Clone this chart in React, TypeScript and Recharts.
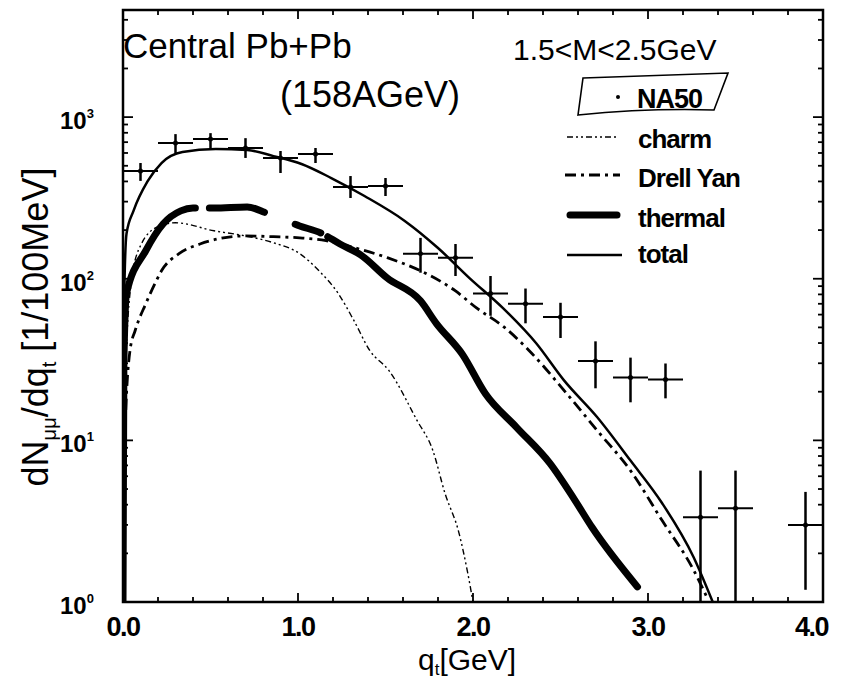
import { ComposedChart, Line, Scatter, ErrorBar, XAxis, YAxis } from "recharts";

// NA50 data points (q_t bin centres, dN/dq_t, error bar ends)
const NA50_QT = [0.1, 0.3, 0.5, 0.7, 0.9, 1.1, 1.3, 1.5, 1.7, 1.9, 2.1, 2.3, 2.5, 2.7, 2.9, 3.1, 3.3, 3.5, 3.9];
const NA50_Y = [464, 692, 731, 644, 559, 591, 370, 375, 143, 135, 81, 70, 58, 31, 24.5, 23.8, 3.35, 3.8, 3.0];
const NA50_HI = [520, 785, 796, 741, 617, 644, 432, 420, 179, 164, 104, 87, 71, 41, 32.5, 29.9, 6.5, 6.5, 4.8];
const NA50_LO = [403, 600, 644, 559, 451, 520, 316, 325, 109, 104, 59, 53, 43, 21, 17.2, 18.2, 1, 1, 1.19];
const NA50_DQ = 0.1;

// model curves
const TOTAL_X = [0, 0.005, 0.02, 0.06, 0.14, 0.22, 0.34, 0.53, 0.71, 0.86, 1.02, 1.19, 1.38, 1.61, 1.8, 1.98, 2.17, 2.36, 2.52, 2.71, 2.9, 3.08, 3.26, 3.37];
const TOTAL_Y = [1, 60, 190, 263, 400, 520, 608, 634, 626, 574, 513, 420, 325, 228, 155, 101, 66, 40, 23.5, 13.9, 7.5, 4.1, 1.9, 1.0];

const THERMAL_X = [0, 0.005, 0.02, 0.13, 0.23, 0.33, 0.4, 0.52, 0.71, 0.82, 1.01, 1.13, 1.24, 1.36, 1.51, 1.7, 1.79, 1.94, 2.07, 2.25, 2.44, 2.58, 2.68, 2.94];
const THERMAL_Y = [1, 30, 81, 149, 219, 263, 274, 274, 278, 255, 212, 192, 164, 140, 101, 73, 53, 34, 19.5, 12, 7.2, 4.3, 2.9, 1.24];

const DY_X = [0, 0.01, 0.04, 0.07, 0.13, 0.19, 0.22, 0.32, 0.44, 0.55, 0.7, 0.86, 1.01, 1.16, 1.28, 1.51, 1.7, 1.9, 2.02, 2.18, 2.32, 2.53, 2.71, 2.9, 3.08, 3.26, 3.34];
const DY_Y = [1, 10, 36, 48, 70, 97, 112, 143, 164, 177, 184, 182, 179, 172, 160, 135, 112, 84, 66, 50, 36, 19.8, 11.5, 6.5, 3.2, 1.58, 1.05];

const CHARM_X = [0, 0.01, 0.05, 0.1, 0.2, 0.3, 0.52, 0.7, 0.86, 1.01, 1.12, 1.23, 1.32, 1.41, 1.52, 1.68, 1.77, 1.84, 1.92, 1.97, 2.0];
const CHARM_Y = [1, 20, 100, 160, 210, 222, 198, 184, 167, 143, 112, 81, 55, 36, 27, 13.3, 8.7, 4.7, 2.67, 1.51, 1.0];

const X_TICKS = [0, 0.2, 0.4, 0.6, 0.8, 1, 1.2, 1.4, 1.6, 1.8, 2, 2.2, 2.4, 2.6, 2.8, 3, 3.2, 3.4, 3.6, 3.8, 4];
const Y_TICKS = [
  1, 2, 3, 4, 5, 6, 7, 8, 9,
  10, 20, 30, 40, 50, 60, 70, 80, 90,
  100, 200, 300, 400, 500, 600, 700, 800, 900,
  1000, 2000, 3000, 4000,
];

const W = 826;
const H = 671;
const PLOT = { left: 115, right: 815, top: 2, bottom: 594 };
const FONT = "'Liberation Sans', Arial, sans-serif";

const curve = (xs: number[], ys: number[]) => xs.map((x, i) => ({ x, y: ys[i] }));

const na50 = NA50_QT.map((x, i) => ({
  x,
  y: NA50_Y[i],
  ex: NA50_DQ,
  ey: [NA50_Y[i] - NA50_LO[i], NA50_HI[i] - NA50_Y[i]],
}));

function XTick({ x, y, payload }: any) {
  const v = payload.value as number;
  const major = Math.abs(v - Math.round(v)) < 1e-6;
  const len = major ? 9 : 5;
  const last = v >= 4;
  return (
    <g>
      <line x1={x} y1={y} x2={x} y2={y - len} stroke="#000" strokeWidth={1.8} />
      <line x1={x} y1={PLOT.top} x2={x} y2={PLOT.top + len} stroke="#000" strokeWidth={1.8} />
      {major && (
        <text
          x={last ? x + 5 : x}
          y={y + 34}
          textAnchor={last ? "end" : "middle"}
          fontSize={27}
          fontWeight="bold"
          letterSpacing={-1.5}
          fontFamily={FONT}
          fill="#000"
        >
          {v.toFixed(1)}
        </text>
      )}
    </g>
  );
}

function YTick({ x, y, payload }: any) {
  const v = payload.value as number;
  const e = Math.log10(v);
  const major = Math.abs(e - Math.round(e)) < 1e-6;
  const len = major ? 10 : 5;
  return (
    <g>
      <line x1={x} y1={y} x2={x + len} y2={y} stroke="#000" strokeWidth={1.8} />
      <line x1={PLOT.right} y1={y} x2={PLOT.right - len} y2={y} stroke="#000" strokeWidth={1.8} />
      {major && (
        <text x={x - 63} y={y + 12} fontSize={24} fontWeight="bold" fontFamily={FONT} fill="#000">
          10<tspan dy={-11} fontSize={13}>{Math.round(e)}</tspan>
        </text>
      )}
    </g>
  );
}

function Overlay() {
  return (
    <svg width={W} height={H} style={{ position: "absolute", left: 0, top: 0, pointerEvents: "none" }} fontFamily={FONT}>
      <rect x={PLOT.left} y={PLOT.top} width={PLOT.right - PLOT.left} height={PLOT.bottom - PLOT.top} fill="none" stroke="#000" strokeWidth={2.5} />

      <text x={115} y={50} fontSize={35}>Central Pb+Pb</text>
      <text x={272} y={99} fontSize={36}>(158AGeV)</text>
      <text x={505} y={52} fontSize={30}>1.5&lt;M&lt;2.5GeV</text>

      <path d="M575 70 L720 65 L706 102 Q640 100 570 107 Z" fill="none" stroke="#000" strokeWidth={1.6} />
      <circle cx={610} cy={89} r={2} fill="#000" />
      <text x={629} y={100} fontSize={27} fontWeight="bold" letterSpacing={-1}>NA50</text>

      <line x1={559} y1={129} x2={609} y2={129} stroke="#000" strokeWidth={1.5} strokeDasharray="6 3 2 3 2 3" />
      <text x={630} y={140} fontSize={26} fontWeight="bold" letterSpacing={-1}>charm</text>
      <line x1={557} y1={167} x2={612} y2={167} stroke="#000" strokeWidth={3} strokeDasharray="11 5 3 5" />
      <text x={630} y={179} fontSize={26} fontWeight="bold" letterSpacing={-1}>Drell Yan</text>
      <line x1={562} y1={207} x2={609} y2={207} stroke="#000" strokeWidth={7} strokeLinecap="round" />
      <text x={630} y={219} fontSize={26} fontWeight="bold" letterSpacing={-1}>thermal</text>
      <line x1={559} y1={247} x2={614} y2={247} stroke="#000" strokeWidth={2.5} />
      <text x={630} y={255} fontSize={26} fontWeight="bold" letterSpacing={-1}>total</text>

      <text transform="rotate(-90)" x={-319} y={40} textAnchor="middle" fontSize={36}>
        dN<tspan dy={8} fontSize={20}>μμ</tspan>
        <tspan dy={-8}>/dq</tspan>
        <tspan dy={8} fontSize={20}>t</tspan>
        <tspan dy={-8}> [1/100MeV]</tspan>
      </text>

      <text x={410} y={662} fontSize={30}>
        q<tspan dy={5} fontSize={17}>t</tspan>
        <tspan dy={-5}>[GeV]</tspan>
      </text>
    </svg>
  );
}

export default function App() {
  return (
    <div style={{ position: "relative", width: W, height: H, background: "#fff" }}>
      <style>{`.recharts-surface, .recharts-wrapper { overflow: visible !important; }`}</style>
      <ComposedChart width={W} height={H} margin={{ top: 2, right: W - PLOT.right, bottom: 0, left: 0 }}>
        <XAxis
          type="number"
          dataKey="x"
          domain={[0, 4]}
          ticks={X_TICKS}
          interval={0}
          height={77}
          axisLine={false}
          tickLine={false}
          tickSize={0}
          tickMargin={0}
          tick={<XTick />}
          allowDataOverflow
        />
        <YAxis
          type="number"
          scale="log"
          domain={[1, 4600]}
          ticks={Y_TICKS}
          interval={0}
          width={115}
          axisLine={false}
          tickLine={false}
          tickSize={0}
          tickMargin={0}
          tick={<YTick />}
          allowDataOverflow
        />
        <Line
          data={curve(CHARM_X, CHARM_Y)}
          dataKey="y"
          type="monotone"
          stroke="#000"
          strokeWidth={1.4}
          strokeDasharray="6 3 2 3 2 3"
          dot={false}
          isAnimationActive={false}
        />
        <Line
          data={curve(DY_X, DY_Y)}
          dataKey="y"
          type="monotone"
          stroke="#000"
          strokeWidth={2.8}
          strokeDasharray="11 5 3 5"
          dot={false}
          isAnimationActive={false}
        />
        <Line
          data={curve(THERMAL_X, THERMAL_Y)}
          dataKey="y"
          type="monotone"
          stroke="#000"
          strokeWidth={7}
          strokeLinecap="round"
          strokeDasharray="425 14 56 33 27 8 5000"
          dot={false}
          isAnimationActive={false}
        />
        <Line
          data={curve(TOTAL_X, TOTAL_Y)}
          dataKey="y"
          type="monotone"
          stroke="#000"
          strokeWidth={2.5}
          dot={false}
          isAnimationActive={false}
        />
        <Scatter
          data={na50}
          dataKey="y"
          fill="#000"
          isAnimationActive={false}
          shape={(p: any) => <circle cx={p.cx} cy={p.cy} r={2.5} fill="#000" />}
        >
          <ErrorBar dataKey="ex" direction="x" width={0} stroke="#000" strokeWidth={2} />
          <ErrorBar dataKey="ey" direction="y" width={0} stroke="#000" strokeWidth={2.5} />
        </Scatter>
      </ComposedChart>
      <Overlay />
    </div>
  );
}
